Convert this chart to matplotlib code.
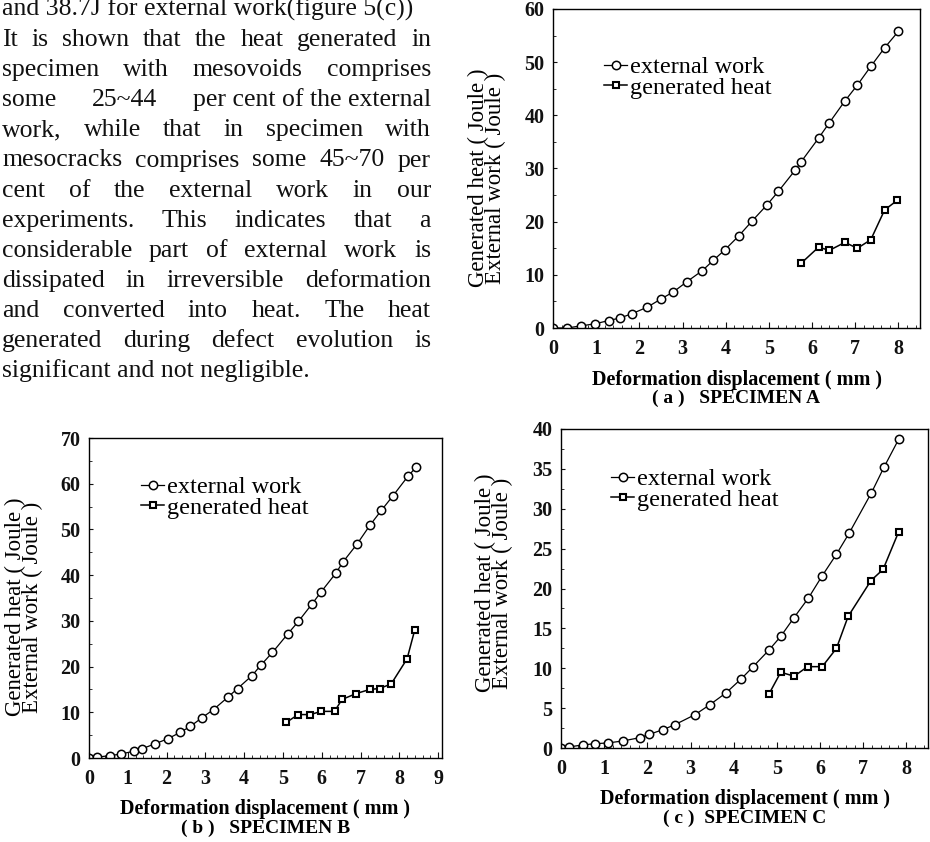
import matplotlib
matplotlib.use("Agg")
import matplotlib.pyplot as plt
from matplotlib.ticker import MultipleLocator

plt.rcParams['font.family'] = ['Liberation Serif', 'DejaVu Serif']

W, H = 930, 842

# ---- data ----
a_work_x = [0, 0.32, 0.65, 0.98, 1.29, 1.56, 1.83, 2.18, 2.51, 2.79, 3.10, 3.46, 3.71, 3.98,
            4.30, 4.62, 4.95, 5.22, 5.61, 5.75, 6.15, 6.40, 6.76, 7.05, 7.36, 7.68, 8.00]
a_work_y = [0, 0, 0.4, 0.8, 1.4, 1.9, 2.7, 3.9, 5.5, 6.8, 8.7, 10.8, 12.7, 14.7,
            17.3, 20.2, 23.1, 25.7, 29.7, 31.3, 35.7, 38.6, 42.7, 45.7, 49.2, 52.7, 55.8]
a_heat_x = [5.75, 6.15, 6.40, 6.76, 7.05, 7.36, 7.68, 7.97]
a_heat_y = [12.2, 15.2, 14.6, 16.1, 15.0, 16.6, 22.2, 24.0]

b_work_x = [0, 0.2, 0.54, 0.83, 1.17, 1.36, 1.70, 2.03, 2.35, 2.61, 2.91, 3.21, 3.58, 3.83, 4.20,
            4.44, 4.73, 5.12, 5.40, 5.75, 5.98, 6.37, 6.54, 6.91, 7.25, 7.54, 7.84, 8.22, 8.44]
b_work_y = [0, 0.2, 0.5, 0.9, 1.5, 2.0, 3.1, 4.2, 5.6, 6.9, 8.8, 10.6, 13.3, 15.2, 18.0,
            20.4, 23.1, 27.1, 29.9, 33.7, 36.3, 40.5, 42.8, 46.8, 51.0, 54.2, 57.4, 61.6, 63.7]
b_heat_x = [5.09, 5.39, 5.71, 5.98, 6.33, 6.52, 6.89, 7.24, 7.49, 7.79, 8.20, 8.40]
b_heat_y = [7.8, 9.5, 9.5, 10.2, 10.2, 12.8, 14.1, 15.0, 15.2, 16.2, 21.7, 28.1]

c_work_x = [0, 0.18, 0.5, 0.78, 1.08, 1.43, 1.83, 2.04, 2.36, 2.63, 3.11, 3.44, 3.82,
            4.18, 4.45, 4.82, 5.09, 5.39, 5.73, 6.05, 6.38, 6.67, 7.19, 7.48, 7.82]
c_work_y = [0, 0.13, 0.38, 0.54, 0.63, 0.88, 1.3, 1.7, 2.3, 2.9, 4.2, 5.4, 6.9,
            8.7, 10.2, 12.3, 14.0, 16.3, 18.8, 21.6, 24.3, 26.9, 32.0, 35.2, 38.7]
c_heat_x = [4.82, 5.09, 5.40, 5.71, 6.05, 6.38, 6.65, 7.18, 7.46, 7.82]
c_heat_y = [6.8, 9.5, 9.0, 10.2, 10.2, 12.5, 16.5, 21.0, 22.4, 27.1]

legend_labels = ['external work', 'generated heat']
ylabel = 'Generated heat ( Joule )\nExternal work ( Joule )'
xlabel = 'Deformation displacement ( mm )'

para_lines = [
    'and 38.7J for external work(figure 5(c))',
    'It is shown that the heat generated in',
    'specimen with mesovoids comprises',
    'some  25~44  per cent of the external',
    'work, while that in specimen with',
    'mesocracks comprises some 45~70 per',
    'cent of the external work in our',
    'experiments. This indicates that a',
    'considerable part of external work is',
    'dissipated in irreversible deformation',
    'and converted into heat. The heat',
    'generated during defect evolution is',
    'significant and not negligible.',
]

fig = plt.figure(figsize=(W / 100, H / 100), dpi=100)


def fx(x):
    return x / W


def fy(y):
    return 1 - y / H


def panel(box, wx, wy, hx, hy, xmax, xticks, yticks, ystep,
          leg_xy, ylab_xy, xlab_y, cap_y, caption):
    l, t, r, b = box
    ax = fig.add_axes([fx(l), fy(b), (r - l) / W, (b - t) / H])
    ax.plot(wx, wy, '-o', color='black', lw=0.9, ms=6, mfc='white', mec='black',
            mew=1.1, label=legend_labels[0])
    ax.plot(hx, hy, '-s', color='black', lw=1.1, ms=4.5, mfc='white', mec='black',
            mew=1.5, label=legend_labels[1])
    ax.set_xlim(0, xmax)
    ax.set_ylim(yticks[0], yticks[-1])
    ax.set_xticks(xticks)
    ax.set_xticklabels([str(v) for v in xticks], fontweight='bold')
    ax.set_yticks(yticks)
    ax.set_yticklabels([str(v) for v in yticks], fontweight='bold')
    ax.xaxis.set_minor_locator(MultipleLocator(0.2))
    ax.yaxis.set_minor_locator(MultipleLocator(ystep / 2))
    ax.tick_params(which='both', direction='in', labelsize=14.5, colors='#111111')
    ax.tick_params(axis='x', which='major', length=4, pad=8)
    ax.tick_params(axis='x', which='minor', length=2.5)
    ax.tick_params(axis='y', which='major', length=3, pad=6)
    ax.tick_params(axis='y', which='minor', length=2)
    for s in ax.spines.values():
        s.set_linewidth(1.0)
    ax.legend(loc='upper left', bbox_to_anchor=(fx(leg_xy[0]), fy(leg_xy[1])),
              bbox_transform=fig.transFigure, frameon=False, fontsize=17.5,
              handlelength=0.95, handletextpad=0.12, borderpad=0, borderaxespad=0,
              labelspacing=-0.05)
    fig.text(fx(ylab_xy[0]), fy(ylab_xy[1]), ylabel, rotation=90, ha='center',
             va='center', multialignment='center', fontsize=16.5, linespacing=0.78)
    cx = (l + r) / 2
    fig.text(fx(cx), fy(xlab_y), xlabel, ha='center', va='center', fontsize=14.5,
             fontweight='bold')
    fig.text(fx(cx), fy(cap_y), caption, ha='center', va='center', fontsize=14,
             fontweight='bold')
    return ax


panel((553, 9, 920, 328), a_work_x, a_work_y, a_heat_x, a_heat_y, 8.5,
      list(range(0, 9)), list(range(0, 61, 10)), 10,
      (604, 56), (487, 178), 380, 398, '( a )   SPECIMEN A')
panel((89, 438, 442, 758), b_work_x, b_work_y, b_heat_x, b_heat_y, 9.1,
      list(range(0, 10)), list(range(0, 71, 10)), 10,
      (141, 476), (24, 607), 809, 828, '( b )   SPECIMEN B')
panel((561, 429, 928, 748), c_work_x, c_work_y, c_heat_x, c_heat_y, 8.5,
      list(range(0, 9)), list(range(0, 41, 5)), 5,
      (611, 468), (494, 583), 799, 818, '( c )  SPECIMEN C')

# ---- justified paragraph at top left ----
fig.canvas.draw()
renderer = fig.canvas.get_renderer()
left, right = 2, 431
for i, line in enumerate(para_lines):
    y = fy(16 + 30.1 * i)
    if i == 0 or i == len(para_lines) - 1:
        fig.text(fx(left), y, line, fontsize=18.5, va='baseline', color='#111111')
        continue
    words = line.split('  ') if '  ' in line else line.split()
    texts = [fig.text(0, y, w_, fontsize=18.5, va='baseline', color='#111111') for w_ in words]
    widths = [t_.get_window_extent(renderer).width for t_ in texts]
    gap = (right - left - sum(widths)) / (len(words) - 1)
    x = left
    for t_, w_ in zip(texts, widths):
        t_.set_x(fx(x))
        x += w_ + gap

fig.savefig('out.png', dpi=100)
